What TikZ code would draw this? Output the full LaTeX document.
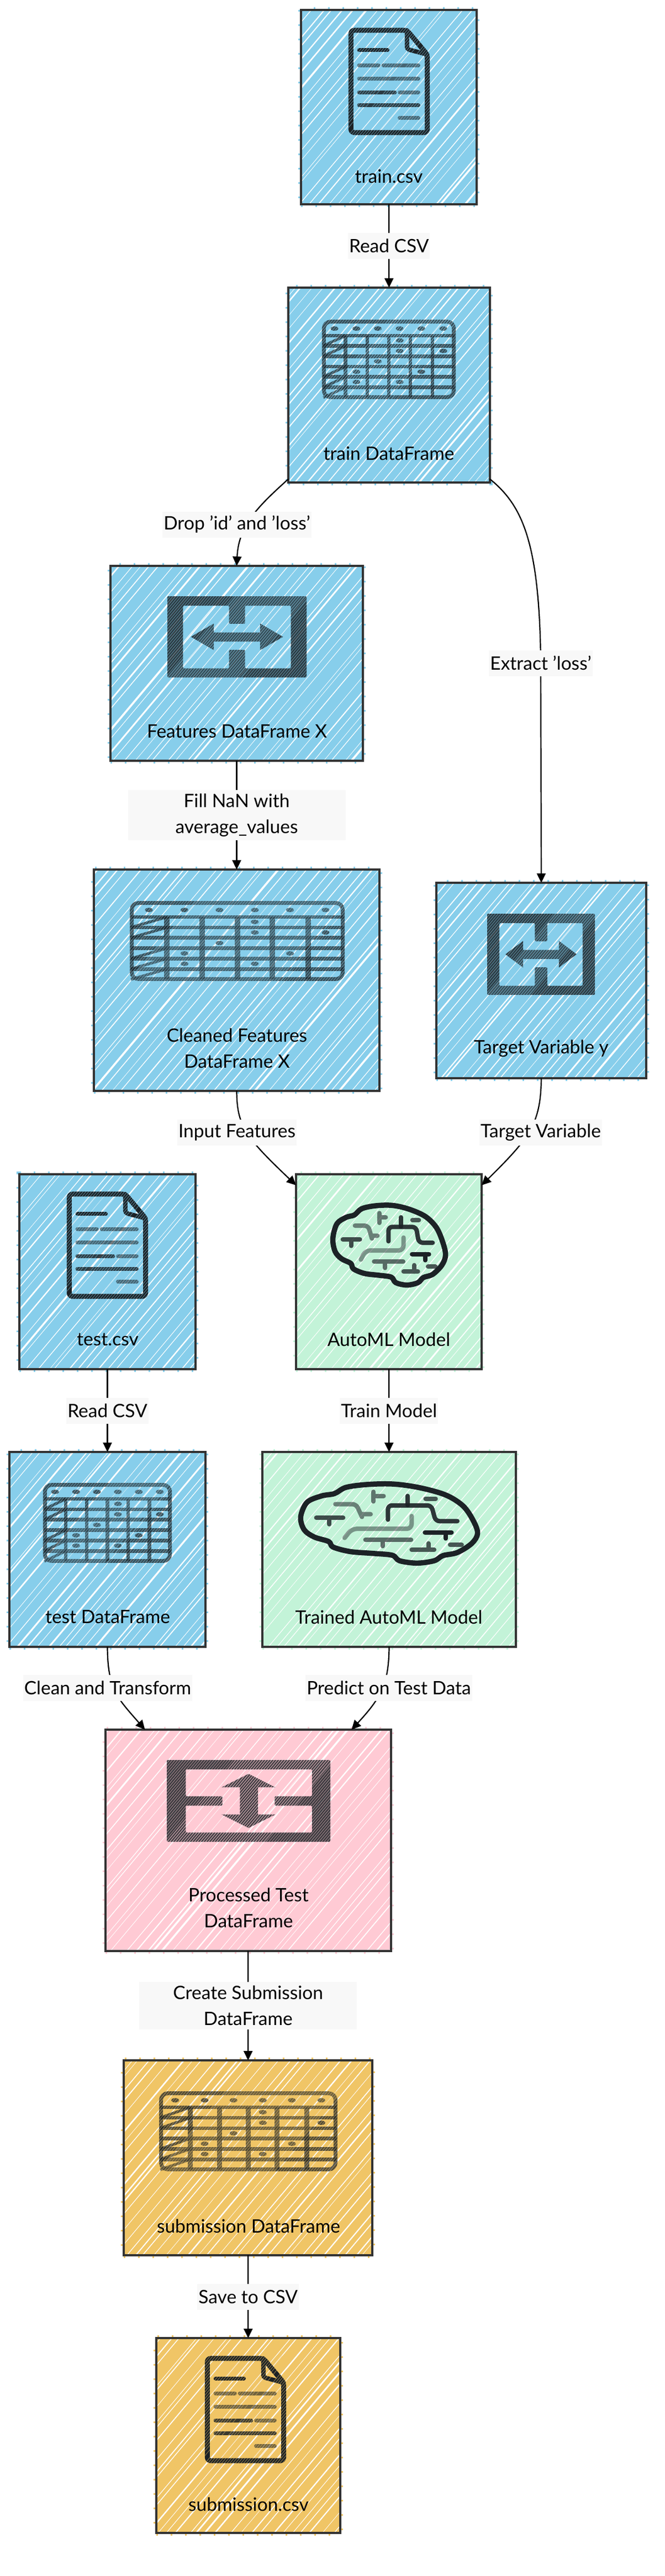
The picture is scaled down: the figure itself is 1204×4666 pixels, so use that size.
\documentclass[tikz,border=0pt]{standalone}
\usepackage{fontspec}
\setmainfont{Lato}
\usetikzlibrary{arrows.meta}
\definecolor{boxblue}{HTML}{87CEEB}
\definecolor{boxgreen}{HTML}{C3F3D8}
\definecolor{boxpink}{HTML}{FFCAD4}
\definecolor{boxorange}{HTML}{F0C566}
\definecolor{boxline}{HTML}{333333}
\definecolor{labelgray}{HTML}{F8F8F8}
\definecolor{icondark}{HTML}{1C2226}
\tikzset{
  databox/.style={draw=boxline, line width=4pt, fill=#1, rectangle, inner sep=0pt, outer sep=0pt,
    preaction={draw=#1, line width=10pt, dash pattern=on 3pt off 23pt},
    path picture={
      \foreach \k in {-540,-521,...,540}{
        \pgfmathsetmacro\wob{rnd*14}
        \pgfmathsetmacro\wid{0.7+3.2*rnd*rnd}
        \draw[white, line width=\wid pt] (\k+\wob-420,500) -- (\k+\wob+420,-500);
      }
    }},
  boxname/.style={font=\fontsize{33.5}{47}\selectfont, align=center, inner sep=0pt, text=black},
  edgelabel/.style={font=\fontsize{33.5}{47}\selectfont, align=center, fill=labelgray, inner xsep=2pt, inner ysep=0pt, minimum height=47pt, text=black},
  twolines/.style={inner ysep=7pt, minimum width=394pt},
  flowline/.style={draw=black, line width=2.2pt, -{Stealth[length=17pt,width=16pt,inset=0pt]}},
  across/.style 2 args={x={(#1pt,0pt)},y={(0pt,-#2pt)}},
  downward/.style 2 args={x={(0pt,-#2pt)},y={(#1pt,0pt)}},
  iconink/.style={draw=icondark, line cap=round, line join=round},
}
% thin strokes of the box colour over an icon
\newcommand{\iconstreaks}[5]{
  \begin{scope}
    \clip (#1,#2) rectangle ({#1+#3},{#2+#4});
    \foreach \k in {0,5,...,#3,\numexpr#3+5\relax}{
      \draw[#5, line width=1pt, opacity=0.5] ({#1+\k-0.84*#4},{#2+#4}) -- ({#1+\k},{#2});
      \draw[#5, line width=1pt, opacity=0.5] ({#1+\k},{#2+#4}) -- ({#1+\k+0.84*#4},{#2});
    }
  \end{scope}
}
\newcommand{\docicon}[3]{ %x,y,colour%
  \begin{scope}[shift={(#1,#2)},across={147}{195}]
    \draw[iconink, line width=9pt, rounded corners=6pt] (.03,.025) -- (.72,.025) -- (.97,.25) -- (.97,.975) -- (.03,.975) -- cycle;
    \draw[iconink, line width=8pt, rounded corners=4pt] (.72,.025) -- (.72,.2) -- (.97,.25);
    \draw[iconink, line width=7pt] (.13,.21) -- (.48,.21);
    \draw[iconink, line width=7pt, opacity=.6] (.13,.35) -- (.37,.35) (.43,.35) -- (.86,.35);
    \draw[iconink, line width=7pt, opacity=.6] (.13,.475) -- (.86,.475);
    \draw[iconink, line width=7pt, opacity=.85] (.13,.6) -- (.57,.6);
    \draw[iconink, line width=7pt, opacity=.6] (.63,.6) -- (.86,.6);
    \draw[iconink, line width=7pt, opacity=.85] (.13,.72) -- (.86,.72);
    \draw[iconink, line width=7pt, opacity=.6] (.63,.84) -- (.86,.84);
  \end{scope}
  \iconstreaks{#1}{#2}{147}{195}{#3}
}
\newcommand{\tableicon}[6]{ %x,y,w,h,column line width,colour%
  \begin{scope}[shift={(#1,#2)},across={#3}{#4},opacity=.75]
    \draw[iconink, line width=7pt, rounded corners=12pt] (.014,.025) rectangle (.986,.975);
    \foreach \r in {.2,.33,.46,.59,.72,.85}{
      \draw[iconink, line width=6.5pt, line cap=butt] (.01,\r) -- (.99,\r);
    }
    \foreach \c in {.176,.339,.5,.661,.826}{
      \draw[iconink, line width=#5pt, line cap=butt] (\c,.2) -- (\c,.98);
    }
    \draw[iconink, line width=5pt, line cap=butt] (.176,.2) -- (.01,.33) (.176,.33) -- (.01,.46) (.176,.59) -- (.01,.72) (.176,.72) -- (.01,.85) (.176,.85) -- (.01,.98);
    \foreach \c/\r in {.093/.112,.257/.112,.418/.112,.581/.112,.743/.112,.907/.112,.581/.261,.581/.393,.907/.393,.418/.525,.257/.655,.743/.655,.257/.784,.581/.784}{
      \fill[icondark] (\c,\r) ellipse [x radius=7pt, y radius=4pt];
    }
  \end{scope}
  \iconstreaks{#1}{#2}{#3}{#4}{#6}
}
\newcommand{\switchicon}[6]{ %x,y,w,h,direction,colour%
  \begin{scope}[shift={(#1,#2)},#5={#3}{#4},opacity=.85]
    \fill[icondark, even odd rule, rounded corners=2pt] (0,0) -- (1,0) -- (1,1) -- (0,1) -- cycle
      (.113,.116) -- (.443,.116) -- (.443,.34) -- (.558,.34) -- (.558,.116) -- (.887,.116) -- (.887,.888) -- (.558,.888) -- (.558,.66) -- (.443,.66) -- (.443,.888) -- (.113,.888) -- cycle;
    \fill[icondark] (.169,.5) -- (.334,.335) -- (.334,.447) -- (.666,.447) -- (.666,.335) -- (.831,.5) -- (.666,.664) -- (.666,.558) -- (.334,.558) -- (.334,.664) -- cycle;
  \end{scope}
  \iconstreaks{#1}{#2}{#3}{#4}{#6}
}
\newcommand{\brainicon}[4]{ %x origin,y origin,x unit,y unit%
  \begin{scope}[shift={(#1,#2)},across={#3}{#4}]
    \draw[iconink, line width=9.5pt] plot[smooth cycle, tension=.55] coordinates {(38,250) (60,170) (110,135) (155,122) (195,88) (270,72) (360,70) (450,90) (540,130) (600,190) (635,270) (650,340) (630,395) (580,445) (530,462) (500,490) (440,503) (380,490) (355,460) (290,450) (210,440) (150,415) (135,385) (85,360) (50,320)};
    \draw[iconink, line width=8pt, rounded corners=7pt, opacity=.55] (158,180) -- (230,180) -- (250,250) (250,235) -- (280,235);
    \draw[iconink, line width=8pt, opacity=.6] (290,112) -- (290,165) (290,135) -- (325,135);
    \draw[iconink, line width=8pt, rounded corners=7pt, opacity=.9] (340,265) -- (340,187) -- (490,187) -- (505,273) -- (580,273);
    \draw[iconink, line width=8pt, opacity=.9] (408,135) -- (408,185);
    \draw[iconink, line width=8pt, opacity=.75] (470,150) -- (505,150);
    \draw[iconink, line width=8pt, opacity=.8] (92,255) -- (185,255) (137,255) -- (137,290);
    \draw[iconink, line width=8pt, rounded corners=9pt, opacity=.45] (422,245) -- (422,315) -- (215,315) -- (190,365);
    \draw[iconink, line width=8pt, opacity=.65] (262,375) -- (420,375) (322,375) -- (322,410);
    \draw[iconink, line width=8pt] (468,335) -- (560,335) (540,335) -- (540,368);
    \draw[iconink, line width=8pt, opacity=.75] (555,403) -- (595,403);
    \draw[iconink, line width=8pt, opacity=.75] (422,430) -- (500,430) (480,395) -- (480,430);
  \end{scope}
}
\begin{document}
\begin{tikzpicture}[x=1pt,y=-1pt]
  \pgfmathsetseed{4711}
  \useasboundingbox (0,0) rectangle (1204,4666);

  %boxes%
  \node[databox=boxblue, minimum width=318pt, minimum height=352pt] (trainCsv) at (704,194) {};
  \node[databox=boxblue, minimum width=365pt, minimum height=353pt] (trainFrame) at (704.5,697.5) {};
  \node[databox=boxblue, minimum width=457pt, minimum height=353pt] (featuresX) at (428.5,1201.5) {};
  \node[databox=boxblue, minimum width=517pt, minimum height=401pt] (cleanedX) at (428.5,1775.5) {};
  \node[databox=boxblue, minimum width=380pt, minimum height=354pt] (targetY) at (980,1776) {};
  \node[databox=boxblue, minimum width=319pt, minimum height=353pt] (testCsv) at (194.5,2303.5) {};
  \node[databox=boxgreen, minimum width=336pt, minimum height=353pt] (autoModel) at (704,2303.5) {};
  \node[databox=boxblue, minimum width=355pt, minimum height=353pt] (testFrame) at (194.5,2806.5) {};
  \node[databox=boxgreen, minimum width=459pt, minimum height=353pt] (trainedModel) at (704.5,2806.5) {};
  \node[databox=boxpink, minimum width=517pt, minimum height=401pt] (processedTest) at (449.5,3333.5) {};
  \node[databox=boxorange, minimum width=450pt, minimum height=353pt] (submissionFrame) at (449,3908.5) {};
  \node[databox=boxorange, minimum width=333pt, minimum height=353pt] (submissionCsv) at (449.5,4411.5) {};

  %icons%
  \docicon{631}{50}{boxblue}
  \tableicon{583}{579}{242}{144}{6.5}{boxblue}
  \switchicon{303}{1080}{252}{147}{across}{boxblue}
  \tableicon{233}{1632}{393}{145}{10}{boxblue}
  \switchicon{882}{1655}{195}{147}{across}{boxblue}
  \docicon{121}{2158}{boxblue}
  \brainicon{590}{2160}{0.3333}{0.3333}
  \tableicon{78}{2686}{233}{145}{6.5}{boxblue}
  \brainicon{524.5}{2665}{0.5233}{0.3306}
  \switchicon{302}{3188}{296}{148}{downward}{boxpink}
  \tableicon{287}{3788}{325}{145}{9}{boxorange}
  \docicon{371}{4267}{boxorange}

  %box texts%
  \node[boxname] (trainCsvName) at (704,319) {train.csv};
  \node[boxname] (trainFrameName) at (704,821) {train DataFrame};
  \node[boxname] (featuresXName) at (429,1325) {Features DataFrame X};
  \node[boxname] (cleanedXName) at (429,1899) {Cleaned Features\\DataFrame X};
  \node[boxname] (targetYName) at (980,1899) {Target Variable y};
  \node[boxname] (testCsvName) at (195,2426) {test.csv};
  \node[boxname] (autoModelName) at (704,2426) {AutoML Model};
  \node[boxname] (testFrameName) at (195,2929) {test DataFrame};
  \node[boxname] (trainedModelName) at (704,2929) {Trained AutoML Model};
  \node[boxname] (processedTestName) at (450,3456) {Processed Test\\DataFrame};
  \node[boxname] (submissionFrameName) at (450,4032) {submission DataFrame};
  \node[boxname] (submissionCsvName) at (450,4536) {submission.csv};

  %connectors%
  \coordinate (dropPt) at (429,950);
  \coordinate (extractPt) at (979,1201);
  \coordinate (inputPt) at (429,2051);
  \coordinate (targetPt) at (979,2051);
  \coordinate (cleanPt) at (195,3057);
  \coordinate (predictPt) at (704,3057);

  \draw[flowline] (trainCsv) -- node[edgelabel] (readTrain) {Read CSV} (trainFrame);
  \draw[flowline] (trainFrame.223) .. controls (470,915) and (432,950) .. (featuresX.north);
  \draw[flowline] (trainFrame.317) .. controls (945,915) and (977,980) .. (extractPt) -- (targetY.north);
  \draw[flowline] (featuresX) -- node[edgelabel, twolines] (fillNan) {Fill NaN with\\average\_values} (cleanedX);
  \draw[flowline] (cleanedX.south) .. controls (429,2040) and (445,2060) .. (autoModel.137);
  \draw[flowline] (targetY.south) .. controls (979,2035) and (960,2060) .. (autoModel.43);
  \draw[flowline] (testCsv) -- node[edgelabel] (readTest) {Read CSV} (testFrame);
  \draw[flowline] (autoModel) -- node[edgelabel] (trainModel) {Train Model} (trainedModel);
  \draw[flowline] (testFrame.south) .. controls (195,3060) and (212,3075) .. (processedTest.133);
  \draw[flowline] (trainedModel.south) .. controls (704,3050) and (690,3075) .. (processedTest.47);
  \draw[flowline] (processedTest) -- node[edgelabel, twolines] (createSubmission) {Create Submission\\DataFrame} (submissionFrame);
  \draw[flowline] (submissionFrame) -- node[edgelabel] (saveCsv) {Save to CSV} (submissionCsv);

  %labels on the curved connectors%
  \node[edgelabel] (dropLoss) at (dropPt) {Drop 'id' and 'loss'};
  \node[edgelabel] (extractLoss) at (extractPt) {Extract 'loss'};
  \node[edgelabel] (inputFeatures) at (inputPt) {Input Features};
  \node[edgelabel] (targetVariable) at (targetPt) {Target Variable};
  \node[edgelabel] (cleanTransform) at (cleanPt) {Clean and Transform};
  \node[edgelabel] (predictTest) at (predictPt) {Predict on Test Data};
\end{tikzpicture}
\end{document}
